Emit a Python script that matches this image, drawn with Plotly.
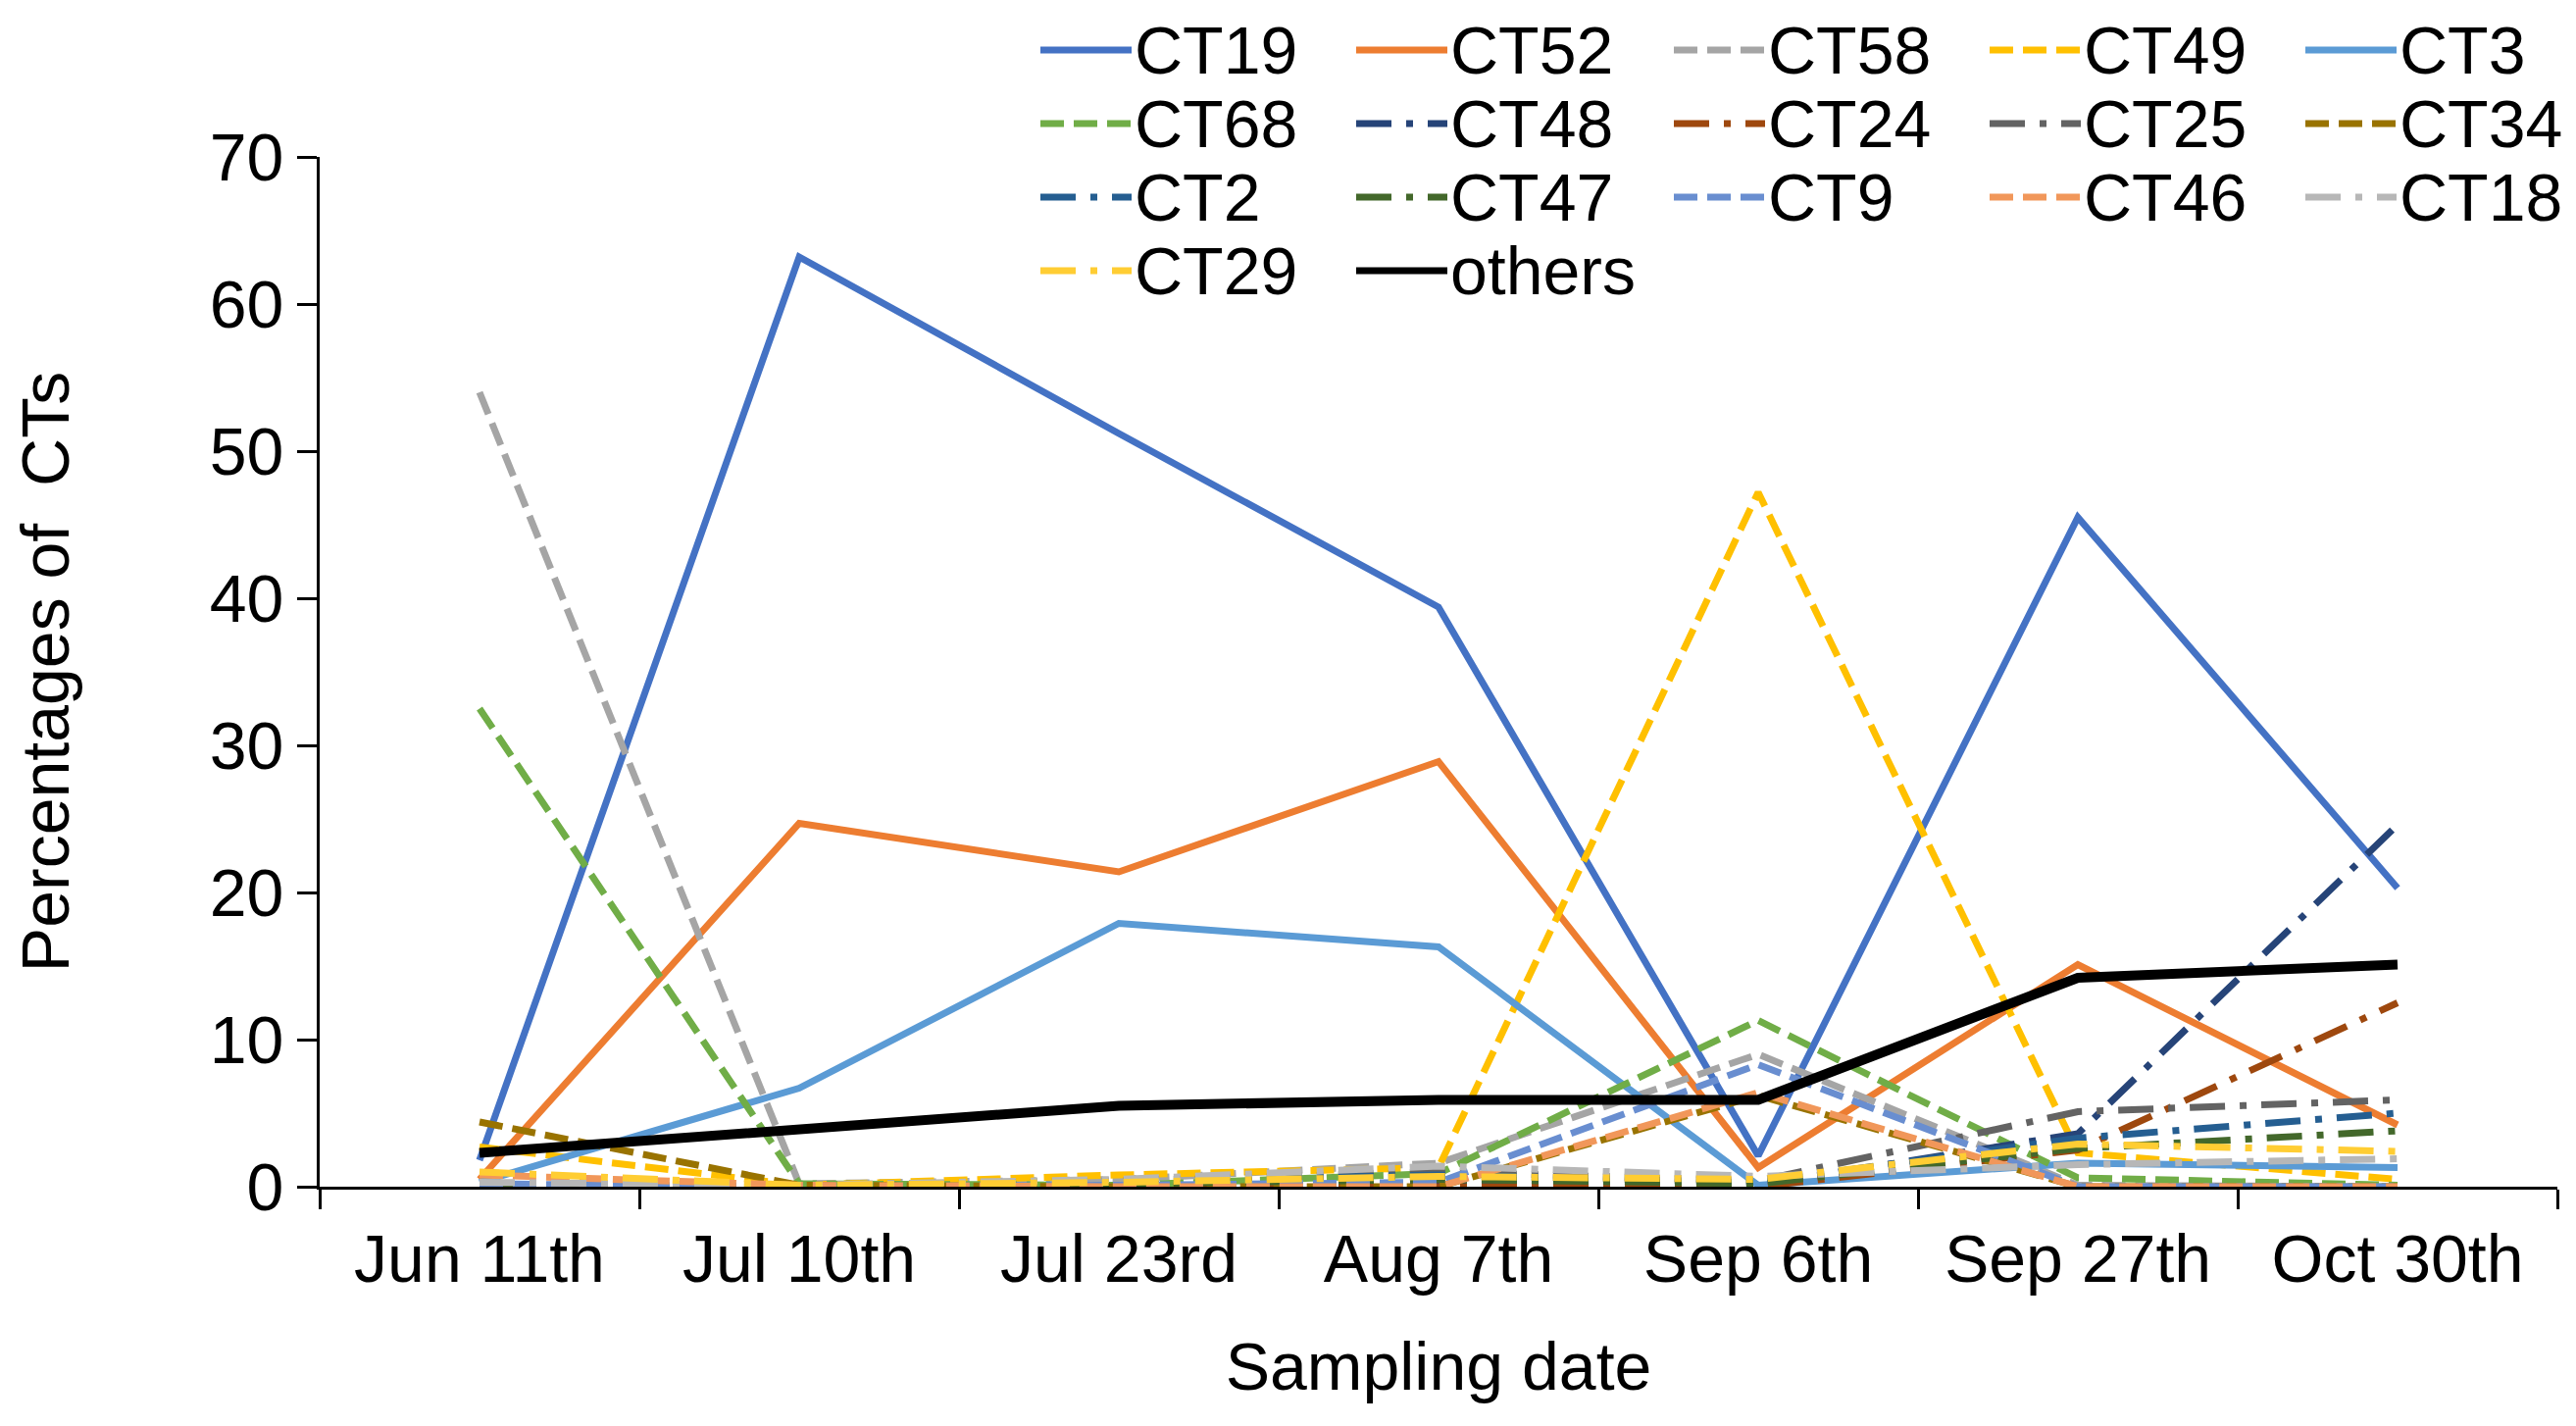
import plotly.graph_objects as go

# sampling dates (x categories)
dates = ["Jun 11th", "Jul 10th", "Jul 23rd", "Aug 7th", "Sep 6th", "Sep 27th", "Oct 30th"]

# percentages of each CT per date
ct19 = [1.8, 63.2, 51.2, 39.4, 2.1, 45.5, 20.3]
ct52 = [0.5, 24.7, 21.4, 28.9, 1.3, 15.1, 4.2]
ct58 = [54.0, 0.2, 0.5, 1.6, 9.0, 0.1, 0.0]
ct49 = [2.7, 0.1, 0.8, 1.3, 47.2, 2.3, 0.5]
ct3 = [0.3, 6.7, 17.9, 16.3, 0.1, 1.6, 1.3]
ct68 = [32.5, 0.2, 0.1, 0.9, 11.3, 0.6, 0.1]
ct48 = [0.0, 0.0, 0.1, 0.2, 0.1, 3.6, 24.6]
ct24 = [0.0, 0.0, 0.0, 0.1, 0.0, 2.5, 12.5]
ct25 = [0.1, 0.1, 0.4, 1.0, 0.4, 5.1, 5.9]
ct34 = [4.4, 0.1, 0.0, 0.0, 6.2, 0.0, 0.0]
ct2 = [0.0, 0.1, 0.4, 0.8, 0.3, 3.3, 5.0]
ct47 = [0.0, 0.0, 0.2, 0.5, 0.2, 2.6, 3.8]
ct9 = [0.2, 0.0, 0.1, 0.3, 8.3, 0.0, 0.0]
ct46 = [0.8, 0.1, 0.0, 0.0, 6.4, 0.0, 0.0]
ct18 = [0.3, 0.1, 0.5, 1.4, 0.7, 1.5, 1.9]
ct29 = [1.0, 0.1, 0.3, 0.7, 0.5, 2.9, 2.4]
others = [2.3, 3.9, 5.5, 5.9, 5.9, 14.2, 15.1]

y_ticks = [0, 10, 20, 30, 40, 50, 60, 70]

FONT = "Arial, Liberation Sans, sans-serif"
DASH = "24px,10px"
DASHDOT = "36px,15px,7px,15px"

# name, values, colour, dash, width  (legend order, 5 per row)
series = [
    ("CT19", ct19, "#4472C4", "solid", 7),
    ("CT52", ct52, "#ED7D31", "solid", 7),
    ("CT58", ct58, "#A5A5A5", DASH, 7),
    ("CT49", ct49, "#FFC000", DASH, 7),
    ("CT3", ct3, "#5B9BD5", "solid", 7),
    ("CT68", ct68, "#70AD47", DASH, 7),
    ("CT48", ct48, "#264478", DASHDOT, 7),
    ("CT24", ct24, "#9E480E", DASHDOT, 7),
    ("CT25", ct25, "#636363", DASHDOT, 7),
    ("CT34", ct34, "#997300", DASH, 7),
    ("CT2", ct2, "#255E91", DASHDOT, 7),
    ("CT47", ct47, "#43682B", DASHDOT, 7),
    ("CT9", ct9, "#698ED0", DASH, 7),
    ("CT46", ct46, "#F1975A", DASH, 7),
    ("CT18", ct18, "#B7B7B7", DASHDOT, 7),
    ("CT29", ct29, "#FFCD33", DASHDOT, 7),
    ("others", others, "#000000", "solid", 10),
]

W, H = 2627, 1454
L, T, PW, PH = 318, 152, 2282, 1050


def px_x(px):
    return (px - L) / PW


def px_y(py):
    return (T + PH - py) / PH


fig = go.Figure()

for name, vals, color, dash, width in series:
    fig.add_trace(
        go.Scatter(
            x=dates,
            y=vals,
            name=name,
            mode="lines",
            line=dict(color=color, dash=dash, width=width),
            showlegend=False,
        )
    )

# legend drawn by hand so the keys are as long as in the original
shapes = []
annotations = []
col_x = [1053, 1375, 1699, 2021, 2343]
row_y = [43, 118, 193, 268]
key_len = 93
for i, (name, vals, color, dash, width) in enumerate(series):
    cx = col_x[i % 5]
    ry = row_y[i // 5]
    shapes.append(
        dict(
            type="line",
            xref="paper",
            yref="paper",
            x0=px_x(cx),
            x1=px_x(cx + key_len),
            y0=px_y(ry),
            y1=px_y(ry),
            line=dict(color=color, dash=dash, width=min(width, 7)),
        )
    )
    annotations.append(
        dict(
            text=name,
            xref="paper",
            yref="paper",
            x=px_x(cx + key_len + 1),
            y=px_y(ry),
            xanchor="left",
            yanchor="middle",
            showarrow=False,
            font=dict(family=FONT, size=68, color="black"),
        )
    )

fig.update_layout(
    width=W,
    height=H,
    margin=dict(l=L, r=W - L - PW, t=T, b=H - T - PH),
    paper_bgcolor="white",
    plot_bgcolor="white",
    font=dict(family=FONT, size=68, color="black"),
    showlegend=False,
    shapes=shapes,
    annotations=annotations,
)

fig.update_xaxes(
    type="category",
    range=[-0.5, 6.5],
    showline=True,
    linecolor="black",
    linewidth=3,
    ticks="outside",
    tickson="boundaries",
    ticklen=20,
    tickwidth=3,
    tickcolor="black",
    ticklabelstandoff=12,
    showgrid=False,
    zeroline=False,
    tickfont=dict(family=FONT, size=68, color="black"),
    title=dict(text="Sampling date", font=dict(family=FONT, size=68), standoff=50),
)

fig.update_yaxes(
    range=[0, 70],
    tickvals=y_ticks,
    showline=True,
    linecolor="black",
    linewidth=3,
    ticks="outside",
    ticklen=20,
    tickwidth=3,
    tickcolor="black",
    showgrid=False,
    zeroline=False,
    tickfont=dict(family=FONT, size=68, color="black"),
    title=dict(text="Percentages of  CTs", font=dict(family=FONT, size=68), standoff=127),
)

fig.write_html("out.html")
